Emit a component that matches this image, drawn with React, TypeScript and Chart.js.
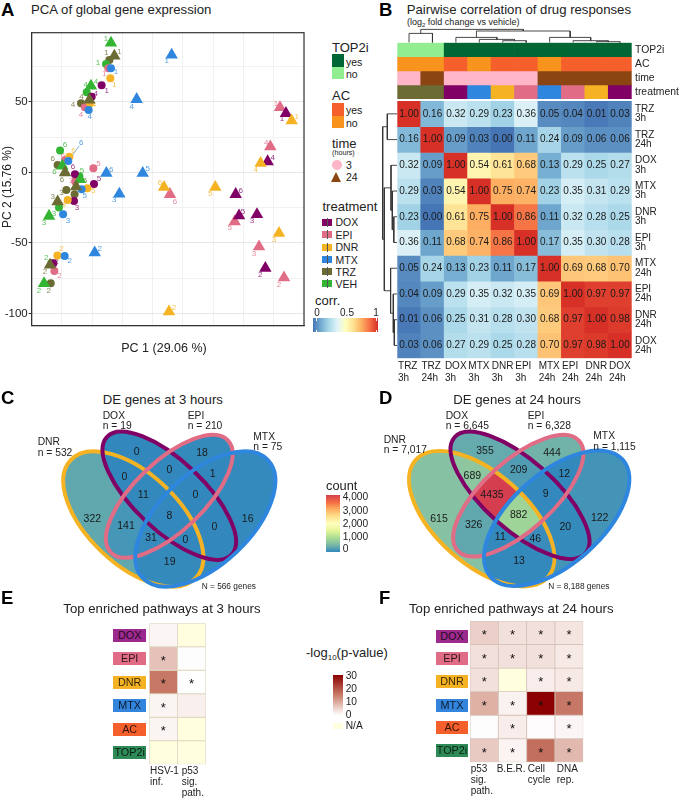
import React, { useEffect, useRef } from "react";
import { Chart, registerables } from "chart.js";

Chart.register(...registerables);
Chart.defaults.font.family = "'Liberation Sans', Arial, sans-serif";

const FONT = "'Liberation Sans', Arial, sans-serif";
const INK = "#222222";

// ---------- drug colours ----------
const drugColor: any = {
  DOX: "#800066", EPI: "#E06C85", DNR: "#F5B324", MTX: "#2E86DE", TRZ: "#6B6B33", VEH: "#33B533",
};

// ---------- Panel A: PCA (replicates 1..6) ----------
const replicates = ["1", "2", "3", "4", "5", "6"];
const vehTri = [[-10.5, 91.6], [-65.7, -78.7], [-61.6, -31], [-27, 61.2], [-36, -5], [-50.6, 4.5]];
const trzTri = [[-7.7, 82.5], [-60.8, -65.7], [-54.5, -20.8], [-28.3, 51.3], [-39.3, -10.2], [-48.4, -0.2]];
const mtxTri = [[39.6, 83.2], [-23.9, -56.9], [-3.6, -15.4], [10.7, 51.7], [15.7, -0.7], [-14.3, -0.7]];
const doxTri = [[133.9, 41.8], [116.9, -68], [110, -29.8], [118.8, 7.6], [95.2, -30.7], [92.4, -15.6]];
const epiTri = [[129, 46], [132.3, -74.7], [111.7, -52.7], [121, 18.2], [91.6, -35], [38.2, -15.6]];
const dnrTri = [[138.6, 36.6], [37.4, -98.8], [128.2, -43.2], [113, 6.4], [75.6, -10.6], [33.3, -10.6]];
const vehCir = [[-14.6, 76.8], [-59.7, -64.5], [-53.4, -25], [-30.5, 56.7], [-36.5, -3], [-52.5, 15.4]];
const trzCir = [[-11.8, 79.6], [-60.2, -78.7], [-47.3, -12.5], [-35.2, 48.9], [-40.5, -15.5], [-54.5, 5.2]];
const mtxCir = [[-10.5, 73.7], [-48.7, -59.3], [-50, -29.8], [-28.9, 44.2], [-34.7, -12], [-45.7, 8]];
const doxCir = [[-18.2, 61.7], [-58, -64.5], [-41, -20.3], [-26.4, 53.6], [-24.5, -8.3], [-40.2, -1.4]];
const epiCir = [[-12.7, 73.7], [-57.2, -70], [-40, -6.6], [-32, 46], [-25, 2.8], [-48.4, 8.7]];
const dnrCir = [[-11, 66.6], [-54.7, -59], [-46.2, -19.6], [-27.8, 49], [-30, -11.3], [-44.8, 11]];

const vehTriShift = [[-5, -4], [-5, 7], [-5, 7], [5, -4], [2, -9], [-8, 6]];
const trzTriShift = [[5, -4], [-5, 7], [-5, -5], [-8, -3], [9, -6], [-3, 7]];
const mtxTriShift = [[-5, 6], [5, -4], [-5, 6], [-5, 7], [5, -4], [5, -3]];
const doxTriShift = [[-4, 6], [-5, 7], [-5, 6], [5, -4], [4, -4], [5, -4]];
const epiTriShift = [[-4, -4], [-5, 7], [-5, 7], [-4, -4], [-5, 6], [5, 7]];
const dnrTriShift = [[5, -4], [5, -4], [-5, 7], [-5, 7], [-5, 7], [-4, -4]];
const vehCirShift = [[-8, -1], [-5, -6], [-5, 6], [-1, -7], [0, 2], [5, -6]];
const trzCirShift = [[-3, -7], [-2, 7], [-5, 3], [-8, 2], [0, 2], [-5, -6]];
const mtxCirShift = [[5, 4], [5, 5], [5, 6], [1, 7], [3, 7], [13, -18]];
const doxCirShift = [[5, 6], [3, -2], [3, 7], [4, -3], [5, -5], [-2, -7]];
const epiCirShift = [[-4, 6], [5, 5], [-4, -1], [-4, 7], [5, -5], [-2, -4]];
const dnrCirShift = [[4, 7], [4, -7], [-4, 5], [4, 2], [6, 3], [4, -6]];

const pcaSeries = [
  ["TRZ", "circle", trzCir, trzCirShift], ["VEH", "circle", vehCir, vehCirShift],
  ["EPI", "circle", epiCir, epiCirShift], ["DOX", "circle", doxCir, doxCirShift],
  ["DNR", "circle", dnrCir, dnrCirShift], ["MTX", "circle", mtxCir, mtxCirShift],
  ["VEH", "triangle", vehTri, vehTriShift], ["TRZ", "triangle", trzTri, trzTriShift],
  ["EPI", "triangle", epiTri, epiTriShift], ["DOX", "triangle", doxTri, doxTriShift],
  ["DNR", "triangle", dnrTri, dnrTriShift], ["MTX", "triangle", mtxTri, mtxTriShift],
];

// ---------- Panel B: correlation ----------
const corrLabels = [
  ["TRZ", "3h"], ["TRZ", "24h"], ["DOX", "3h"], ["MTX", "3h"], ["DNR", "3h"],
  ["EPI", "3h"], ["MTX", "24h"], ["EPI", "24h"], ["DNR", "24h"], ["DOX", "24h"],
];
const corrTRZ3 = [1.0, 0.16, 0.32, 0.29, 0.23, 0.36, 0.05, 0.04, 0.01, 0.03];
const corrTRZ24 = [0.16, 1.0, 0.09, 0.03, 0.0, 0.11, 0.24, 0.09, 0.06, 0.06];
const corrDOX3 = [0.32, 0.09, 1.0, 0.54, 0.61, 0.68, 0.13, 0.29, 0.25, 0.27];
const corrMTX3 = [0.29, 0.03, 0.54, 1.0, 0.75, 0.74, 0.23, 0.35, 0.31, 0.29];
const corrDNR3 = [0.23, 0.0, 0.61, 0.75, 1.0, 0.86, 0.11, 0.32, 0.28, 0.25];
const corrEPI3 = [0.36, 0.11, 0.68, 0.74, 0.86, 1.0, 0.17, 0.35, 0.3, 0.28];
const corrMTX24 = [0.05, 0.24, 0.13, 0.23, 0.11, 0.17, 1.0, 0.69, 0.68, 0.7];
const corrEPI24 = [0.04, 0.09, 0.29, 0.35, 0.32, 0.35, 0.69, 1.0, 0.97, 0.97];
const corrDNR24 = [0.01, 0.06, 0.25, 0.31, 0.28, 0.3, 0.68, 0.97, 1.0, 0.98];
const corrDOX24 = [0.03, 0.06, 0.27, 0.29, 0.25, 0.28, 0.7, 0.97, 0.98, 1.0];
const corrRows = [corrTRZ3, corrTRZ24, corrDOX3, corrMTX3, corrDNR3, corrEPI3, corrMTX24, corrEPI24, corrDNR24, corrDOX24];

const annotNames = ["TOP2i", "AC", "time", "treatment"];
const annotTop2i = ["no", "no", "yes", "yes", "yes", "yes", "yes", "yes", "yes", "yes"];
const annotAC = ["no", "no", "yes", "no", "yes", "yes", "no", "yes", "yes", "yes"];
const annotTime = ["3", "24", "3", "3", "3", "3", "24", "24", "24", "24"];
const annotDrug = ["TRZ", "TRZ", "DOX", "MTX", "DNR", "EPI", "MTX", "EPI", "DNR", "DOX"];
const top2iColor: any = { yes: "#006633", no: "#90EE90" };
const acColor: any = { yes: "#F55F2C", no: "#F8941E" };
const timeColor: any = { "3": "#FFB6C8", "24": "#8B4513" };

const colTree = [[0, 1, 9.3], [[2, [3, [4, 5, 2], 3.3], 5.3], [6, [7, [8, 9, 1], 2], 5.3], 11.7], 13.3];
const rowTree = [[0, 1, 10], [[2, [3, [4, 5, 3.5], 5], 6.3], [6, [7, [8, 9, 3], 4], 6.7], 13], 14.6];

// ---------- Panels C, D: Venn ----------
// membership in order DNR, DOX, EPI, MTX
const vennRegions = [
  [0, 1, 0, 0], [0, 0, 1, 0], [0, 0, 0, 1], [1, 0, 0, 0], [1, 1, 0, 0],
  [0, 1, 1, 0], [0, 0, 1, 1], [1, 1, 1, 0], [0, 1, 1, 1], [1, 1, 1, 1],
  [1, 0, 1, 0], [0, 1, 0, 1], [1, 0, 1, 1], [1, 1, 0, 1], [1, 0, 0, 1],
];
const counts3h = [0, 18, 16, 322, 0, 0, 1, 11, 0, 8, 141, 0, 31, 0, 19];
const counts24h = [355, 444, 122, 615, 689, 209, 12, 4435, 9, 882, 326, 20, 11, 46, 13];
const anchors3h = [[136.7, 451.7], [202, 453], [247.7, 519], [92.3, 519], [124.3, 476.7], [169.3, 470], [212.7, 474.3], [143.3, 495], [195.3, 495], [169.3, 516], [126, 526], [214.3, 527.3], [151, 538], [185.3, 540], [169.7, 561.7]];
const anchors24h = [[485, 451], [552, 453], [599.7, 518.3], [439, 518.7], [472.3, 476], [518.7, 470], [564.3, 474], [492, 494.7], [545.7, 494.3], [518.7, 515.3], [473.7, 525.3], [565.3, 526.7], [500.3, 537.3], [535.3, 538.7], [519, 560.7]];
// cx, cy, a, b, tilt(deg), in order DNR, DOX, EPI, MTX
const shapes3h = [[133.3, 519, 86, 45.5, 43.3], [169.3, 495.7, 85.7, 34.7, 43.4], [169.3, 496.3, 81, 34.7, -43.7], [205.3, 519, 86, 45.5, -43.3]];
const shapes24h = [[481.7, 518.7, 88.3, 45.5, 41.5], [520, 495.3, 87.5, 34.7, 41.6], [518.3, 495.7, 81.9, 34.7, -42.2], [556.7, 518.3, 88.3, 45.5, -41.5]];
const vennStroke = [drugColor.DNR, drugColor.DOX, drugColor.EPI, drugColor.MTX];

// ---------- Panels E, F: enrichment ----------
const enrichRowNames = ["DOX", "EPI", "DNR", "MTX", "AC", "TOP2i"];
const enrichChipColor = ["#9C2A8E", "#E06C85", "#F5B324", "#3384DC", "#F55F2C", "#2E8B57"];
const enrich3Cols = [["HSV-1", "inf."], ["p53", "sig.", "path."]];
const enrich3HSV = [1, 7, 15.4, 1.3, 1.3, null];
const enrich3P53 = [null, 0.2, 0, 1.8, null, null];
const enrich3Star = [[0, 0], [1, 0], [1, 1], [1, 0], [1, 0], [0, 0]];
const enrich24Cols = [["p53", "sig.", "path."], ["B.E.R."], ["Cell", "cycle"], ["DNA", "rep."]];
const enrich24P53 = [5.5, 3.5, 3.5, 9, 0.2, 6];
const enrich24BER = [3.5, 3.5, null, 1.5, 2, 1.2];
const enrich24Cell = [3.5, 3.5, 2, 30, 0.3, 16.5];
const enrich24DNA = [3, 2.5, 2.5, 15.5, 1, 8];
const enrich24Star = [[1, 1, 1, 1], [1, 1, 1, 1], [1, 0, 1, 1], [1, 1, 1, 1], [0, 1, 0, 1], [1, 1, 1, 1]];

// ---------- colour ramps ----------
const corrStops = ["#4575B4", "#74ADD1", "#ABD9E9", "#E0F3F8", "#FFFFBF", "#FEE090", "#FDAE61", "#F46D43", "#D73027"];
const countStops = ["#3288BD", "#7AB8A6", "#ABDD94", "#E6F598", "#FFFFBF", "#FEE08B", "#FDAE61", "#F46D43", "#D53E4F"];
const pvalStops = ["#FFFFFF", "#C97B68", "#8B0000"];
const NA_COLOR = "#FFFFE0";

function ramp(stops: string[], t: number) {
  const v = Math.max(0, Math.min(1, t)) * (stops.length - 1);
  const i = Math.min(stops.length - 2, Math.floor(v));
  const f = v - i;
  const p = (h: string) => [1, 3, 5].map((k) => parseInt(h.slice(k, k + 2), 16));
  const a = p(stops[i]);
  const b = p(stops[i + 1]);
  return `rgb(${a.map((c, k) => Math.round(c + (b[k] - c) * f)).join(",")})`;
}
const pvalColor = (v: number | null) => (v === null ? NA_COLOR : ramp(pvalStops, v / 30));

// ---------- shared chart helpers ----------
const baseOptions = (padding: any) => ({
  responsive: false,
  animation: false,
  events: [],
  layout: { autoPadding: false, padding },
  plugins: { legend: { display: false }, tooltip: { enabled: false } },
});

const noAxisPadding = (s: any) => {
  s.paddingLeft = 0; s.paddingRight = 0; s.paddingTop = 0; s.paddingBottom = 0;
};

const textPlugin = {
  id: "cellText",
  beforeDraw(chart: any, _a: any, o: any) {
    if (!o.xNudge || !chart.scales.x.options.display) return;
    const items = chart.scales.x.getLabelItems();
    if (items.$nudged) return;
    items.forEach((it: any, i: number) => { it.options.translation[0] += o.xNudge[i] || 0; });
    items.$nudged = true;
  },
  afterDatasetsDraw(chart: any, _a: any, o: any) {
    if (!o.text) return;
    const ctx = chart.ctx;
    ctx.save();
    ctx.font = o.font;
    ctx.fillStyle = o.color || INK;
    ctx.textAlign = "center";
    ctx.textBaseline = "middle";
    chart.data.datasets.forEach((_d: any, r: number) => {
      chart.getDatasetMeta(r).data.forEach((el: any, c: number) => {
        const s = o.text[r][c];
        if (s) ctx.fillText(s, el.x, (el.y + el.base) / 2 + (o.dy || 0));
      });
    });
    ctx.restore();
  },
};

function heatConfig(p: any) {
  const rows = p.colors.length;
  return {
    type: "bar",
    plugins: [textPlugin],
    data: {
      labels: p.cols,
      datasets: p.colors.map((row: string[], r: number) => ({
        data: row.map(() => [r, r + 1]),
        backgroundColor: row,
        borderColor: p.border || "transparent",
        borderWidth: p.border ? 0.8 : 0,
        borderSkipped: false,
        grouped: false,
        barPercentage: 1,
        categoryPercentage: 1,
      })),
    },
    options: {
      ...baseOptions(p.padding),
      plugins: {
        legend: { display: false },
        tooltip: { enabled: false },
        cellText: { text: p.text, font: p.textFont, dy: p.textDy, color: p.textColor, xNudge: p.xNudge },
      },
      scales: {
        x: {
          type: "category",
          offset: true,
          display: !!p.xHeight,
          grid: { display: false, drawTicks: false },
          border: { display: false },
          ticks: {
            autoSkip: false, maxRotation: 0, minRotation: 0, align: "start", padding: p.xPad || 2, color: INK,
            font: { size: 10, lineHeight: p.xLine || 1.2 },
            labelOffset: p.xOffset || 0,
          },
          afterFit(s: any) { if (p.xHeight) s.height = p.xHeight; noAxisPadding(s); },
        },
        y: {
          type: "linear",
          position: "right",
          min: 0,
          max: rows,
          reverse: true,
          display: !!p.yLabels,
          grid: { display: false, drawTicks: false },
          border: { display: false },
          afterBuildTicks(s: any) { if (p.yLabels) s.ticks = p.yLabels.map((_: any, i: number) => ({ value: i + 0.5 })); },
          ticks: {
            autoSkip: false, padding: 3.3, color: INK,
            font: { size: p.yFont || 10, lineHeight: p.yLine || 1 },
            callback: (_v: any, i: number) => (p.yLabels ? p.yLabels[i] : ""),
          },
          afterFit(s: any) { if (p.yLabels) s.width = p.yWidth; noAxisPadding(s); },
        },
      },
    },
  };
}

function treeSegments(node: any, out: number[][]): { pos: number; h: number } {
  if (typeof node === "number") return { pos: node + 0.5, h: 0 };
  const l = treeSegments(node[0], out);
  const r = treeSegments(node[1], out);
  const h = node[2];
  out.push([l.pos, l.h], [l.pos, h], [r.pos, h], [r.pos, r.h], [NaN, NaN]);
  return { pos: (l.pos + r.pos) / 2, h };
}

function dendroConfig(tree: any, horizontal: boolean, padding: any, hMax: number) {
  const pts: number[][] = [];
  treeSegments(tree, pts);
  const axisOff = { display: false };
  return {
    type: "scatter",
    data: {
      datasets: [{
        data: pts.map(([pos, h]) => (horizontal ? { x: h, y: pos } : { x: pos, y: h })),
        showLine: true, spanGaps: false, pointRadius: 0, borderColor: "#333333", borderWidth: 0.9, borderJoinStyle: "miter",
      }],
    },
    options: {
      ...baseOptions(padding),
      scales: horizontal
        ? { x: { ...axisOff, min: 0, max: hMax, reverse: true }, y: { ...axisOff, min: 0, max: 10, reverse: true } }
        : { x: { ...axisOff, min: 0, max: 10 }, y: { ...axisOff, min: 0, max: hMax } },
    },
  };
}

const vennPlugin = {
  id: "venn",
  beforeDatasetsDraw(chart: any, _a: any, o: any) {
    const ctx = chart.ctx;
    const sx = chart.scales.x;
    const sy = chart.scales.y;
    const path = (s: number[]) => {
      ctx.ellipse(sx.getPixelForValue(s[0]), sy.getPixelForValue(s[1]), s[2], s[3], (s[4] * Math.PI) / 180, 0, Math.PI * 2);
    };
    vennRegions.forEach((mask, i) => {
      ctx.save();
      mask.forEach((inside, k) => {
        ctx.beginPath();
        if (!inside) ctx.rect(0, 0, chart.width, chart.height);
        path(o.shapes[k]);
        ctx.clip(inside ? "nonzero" : "evenodd");
      });
      ctx.fillStyle = ramp(countStops, o.counts[i] / 4000);
      ctx.fillRect(0, 0, chart.width, chart.height);
      ctx.restore();
    });
    ctx.save();
    ctx.lineWidth = 4;
    o.shapes.forEach((s: number[], k: number) => {
      ctx.strokeStyle = vennStroke[k];
      ctx.beginPath();
      path(s);
      ctx.stroke();
    });
    ctx.restore();
  },
  afterDatasetsDraw(chart: any, _a: any, o: any) {
    const ctx = chart.ctx;
    ctx.save();
    ctx.font = `10.5px ${FONT}`;
    ctx.fillStyle = "#1a1a1a";
    ctx.textAlign = "center";
    ctx.textBaseline = "middle";
    chart.getDatasetMeta(0).data.forEach((el: any, i: number) => ctx.fillText(String(o.counts[i]), el.x, el.y));
    ctx.restore();
  },
};

function vennConfig(counts: number[], anchors: number[][], shapes: number[][], x0: number, y0: number, w: number, h: number) {
  return {
    type: "scatter",
    plugins: [vennPlugin],
    data: { datasets: [{ data: anchors.map(([x, y]) => ({ x, y })), pointRadius: 0 }] },
    options: {
      ...baseOptions(0),
      plugins: { legend: { display: false }, tooltip: { enabled: false }, venn: { counts, shapes } },
      scales: {
        x: { display: false, min: x0, max: x0 + w },
        y: { display: false, min: y0, max: y0 + h, reverse: true },
      },
    },
  };
}

const pcaPlugin = {
  id: "pcaDecor",
  beforeDatasetsDraw(chart: any) {
    const ctx = chart.ctx;
    ctx.save();
    ctx.font = `8px ${FONT}`;
    ctx.textAlign = "center";
    ctx.textBaseline = "middle";
    chart.data.datasets.forEach((d: any, k: number) => {
      chart.getDatasetMeta(k).data.forEach((el: any, i: number) => {
        const [dx, dy] = d.labelShift[i];
        ctx.globalAlpha = 0.8;
        ctx.fillStyle = d.backgroundColor;
        if (Math.hypot(dx, dy) > 12) {
          ctx.strokeStyle = d.backgroundColor;
          ctx.lineWidth = 0.8;
          ctx.beginPath();
          ctx.moveTo(el.x, el.y);
          ctx.lineTo(el.x + dx * 0.85, el.y + dy * 0.85);
          ctx.stroke();
        }
        ctx.fillText(replicates[i], el.x + dx, el.y + dy);
      });
    });
    ctx.restore();
  },
  afterDatasetsDraw(chart: any) {
    const { ctx, chartArea: a } = chart;
    ctx.save();
    ctx.strokeStyle = "#333333";
    ctx.lineWidth = 1.2;
    ctx.strokeRect(a.left, a.top, a.right - a.left, a.bottom - a.top);
    ctx.restore();
  },
};

function pcaConfig() {
  const datasets = pcaSeries.map(([drug, style, pts, shift]: any) => ({
    data: pts.map(([x, y]: number[]) => ({ x, y })),
    labelShift: shift,
    pointStyle: style,
    pointRadius: style === "circle" ? 4 : 7.2,
    backgroundColor: drugColor[drug],
    borderColor: drugColor[drug],
    borderWidth: 0,
  })).reverse();
  const isMajor = (v: number) => v % 50 === 0;
  const axis = (min: number, max: number, fit: any) => ({
    min, max,
    grid: {
      color: (c: any) => (isMajor(c.tick.value) ? "#E6E6E6" : "#F1F1F1"),
      tickColor: (c: any) => (isMajor(c.tick.value) ? "#333333" : "transparent"),
      tickLength: 3,
    },
    border: { color: "#333333", width: 1 },
    ticks: {
      stepSize: 25, includeBounds: false, autoSkip: false, maxRotation: 0, color: INK, padding: 1,
      font: { size: 11.5 },
      callback: (v: number) => (isMajor(v) ? String(v) : ""),
    },
    afterFit: (s: any) => { fit(s); noAxisPadding(s); },
  });
  return {
    type: "scatter",
    plugins: [pcaPlugin],
    data: { datasets },
    options: {
      ...baseOptions({ top: 32.7, right: 8, bottom: 0, left: 0 }),
      scales: {
        x: axis(-75.9, 148.8, (s: any) => { s.height = 29.3; }),
        y: axis(-108.7, 98.9, (s: any) => { s.width = 31.7; }),
      },
    },
  };
}

// ---------- React pieces ----------
function ChartBox({ x, y, w, h, make }: any) {
  const ref = useRef<HTMLCanvasElement | null>(null);
  useEffect(() => {
    const chart = new Chart(ref.current as any, make() as any);
    return () => chart.destroy();
  }, []);
  return <canvas ref={ref} width={w} height={h} style={{ position: "absolute", left: x, top: y, width: w, height: h, display: "block" }} />;
}

function T({ x, y, s = 10, b = false, c = INK, center = false, rot = 0, children }: any) {
  const tx = center ? "-50%" : "0";
  return (
    <div style={{
      position: "absolute", left: x, top: y, fontSize: s, fontWeight: b ? 700 : 400, color: c, fontFamily: FONT,
      whiteSpace: "nowrap", lineHeight: 1, transform: `translate(${tx},-50%)${rot ? ` rotate(${rot}deg)` : ""}`,
    }}>{children}</div>
  );
}

function Box({ x, y, w, h, bg, children }: any) {
  return <div style={{ position: "absolute", left: x, top: y, width: w, height: h, background: bg }}>{children}</div>;
}

function Chip({ x, y, w, name, bg }: any) {
  return (
    <div style={{
      position: "absolute", left: x, top: y - 6.5, width: w, height: 13, background: bg, color: "rgba(0,0,0,.8)",
      fontFamily: FONT, fontSize: 10.8, lineHeight: "13px", textAlign: "center",
    }}>{name}</div>
  );
}

const legendDrugs = ["DOX", "EPI", "DNR", "MTX", "TRZ", "VEH"];
const legendDrugY = [222.3, 234.8, 247, 259.5, 271.5, 283.5];
const chipY3 = [635, 658.3, 682.3, 705.7, 729, 752.3];
const chipY24 = [636, 658.3, 681.7, 705, 727.7, 750.7];
const countTicks = ["4,000", "3,000", "2,000", "1,000", "0"];
const countTickY = [497.3, 510.7, 524, 537.3, 549.3];
const pvalTicks = ["30", "20", "10", "0", "N/A"];
const pvalTickY = [676, 689.3, 702.3, 715, 726.3];

export default function App() {
  const corrColors = corrRows.map((r) => r.map((v) => ramp(corrStops, v)));
  const corrText = corrRows.map((r) => r.map((v) => v.toFixed(2)));
  const annotColors = [
    annotTop2i.map((k) => top2iColor[k]),
    annotAC.map((k) => acColor[k]),
    annotTime.map((k) => timeColor[k]),
    annotDrug.map((k) => drugColor[k]),
  ];
  const e3 = enrich3HSV.map((v, i) => [pvalColor(v), pvalColor(enrich3P53[i])]);
  const e24 = enrich24P53.map((v, i) => [pvalColor(v), pvalColor(enrich24BER[i]), pvalColor(enrich24Cell[i]), pvalColor(enrich24DNA[i])]);
  const starText = (m: number[][]) => m.map((r) => r.map((v) => (v ? "*" : "")));

  return (
    <div style={{ position: "absolute", left: 0, top: 0, width: 679, height: 800, overflow: "hidden", background: "#fff" }}>
      {/* A */}
      <T x={1} y={10} s={18.5} b c="#000">A</T>
      <T x={31} y={10} s={13.2}>PCA of global gene expression</T>
      <ChartBox x={0} y={0} w={312} h={355} make={pcaConfig} />
      <T x={7} y={187} s={12} center rot={-90}>PC 2 (15.76 %)</T>
      <T x={164} y={348} s={12.5} center>PC 1 (29.06 %)</T>

      {/* legends */}
      <T x={332} y={46.7} s={13}>TOP2i</T>
      <Box x={332} y={54.3} w={12} h={12.4} bg={top2iColor.yes} />
      <Box x={332} y={66.7} w={12} h={12.3} bg={top2iColor.no} />
      <T x={346} y={61.7} s={10.5}>yes</T>
      <T x={346} y={74} s={10.5}>no</T>
      <T x={332} y={95} s={13}>AC</T>
      <Box x={332} y={103.3} w={12} h={12.4} bg={acColor.yes} />
      <Box x={332} y={115.7} w={12} h={12.3} bg={acColor.no} />
      <T x={346} y={110.3} s={10.5}>yes</T>
      <T x={346} y={122.7} s={10.5}>no</T>
      <T x={332} y={142.7} s={13}>time</T>
      <T x={332} y={152.5} s={7.2}>(hours)</T>
      <div style={{ position: "absolute", left: 332, top: 160, width: 9.6, height: 9.6, borderRadius: "50%", background: timeColor["3"] }} />
      <T x={346} y={164.7} s={10.5}>3</T>
      <div style={{ position: "absolute", left: 331, top: 172, width: 0, height: 0, borderLeft: "5.5px solid transparent", borderRight: "5.5px solid transparent", borderBottom: `10px solid ${timeColor["24"]}` }} />
      <T x={346} y={177} s={10.5}>24</T>
      <T x={322.5} y={206} s={13}>treatment</T>
      {legendDrugs.map((d, i) => (
        <React.Fragment key={d}>
          <Box x={321.7} y={legendDrugY[i] - 3.5} w={10.6} h={7} bg={drugColor[d]} />
          <Box x={326.5} y={legendDrugY[i] - 4.5} w={1} h={9} bg="#555" />
          <T x={335.5} y={legendDrugY[i]} s={10.5}>{d}</T>
        </React.Fragment>
      ))}
      <T x={315} y={300} s={13}>corr.</T>
      <T x={317} y={313} s={10} center>0</T>
      <T x={347} y={313} s={10} center>0.5</T>
      <T x={376} y={313} s={10} center>1</T>
      <Box x={313.3} y={318.3} w={65} h={14} bg={`linear-gradient(to right, ${corrStops.join(",")})`} />
      <Box x={315.5} y={318.3} w={1} h={2.5} bg="#fff" />
      <Box x={315.5} y={329.8} w={1} h={2.5} bg="#fff" />
      <Box x={375.5} y={318.3} w={1} h={2.5} bg="#fff" />
      <Box x={375.5} y={329.8} w={1} h={2.5} bg="#fff" />

      {/* B */}
      <T x={379} y={10} s={18.5} b c="#000">B</T>
      <T x={406.7} y={10} s={13.2}>Pairwise correlation of drug responses</T>
      <T x={407} y={22} s={9}>(log<sub style={{ fontSize: 6, verticalAlign: "-2px", lineHeight: 0 }}>2</sub> fold change vs vehicle)</T>
      <ChartBox x={390} y={25} w={250} h={18} make={() => dendroConfig(colTree, false, { left: 7.3, right: 8.3, top: 0, bottom: 0.3 }, 17.7)} />
      <ChartBox x={390} y={40} w={289} h={62} make={() => heatConfig({
        cols: corrLabels.map((l) => l.join(" ")), colors: annotColors, yLabels: annotNames, yWidth: 47.3, yFont: 10.4,
        padding: { left: 7.3, top: 2.7, right: 0, bottom: 3 },
      })} />
      <ChartBox x={375} y={95} w={23} h={300} make={() => dendroConfig(rowTree, true, { left: 0, right: 0.7, top: 6, bottom: 36.7 }, 22.3)} />
      <ChartBox x={390} y={95} w={289} h={300} make={() => heatConfig({
        cols: corrLabels, colors: corrColors, text: corrText, textFont: `10px ${FONT}`, textColor: "#1a1a1a",
        yLabels: corrLabels, yWidth: 47.3, yFont: 10, yLine: 0.93, xHeight: 36.7, xPad: 2, xOffset: -11,
        padding: { left: 7.3, top: 6, right: 0, bottom: 0 },
      })} />

      {/* C */}
      <T x={1} y={398} s={18.5} b c="#000">C</T>
      <T x={102.7} y={400} s={13.2}>DE genes at 3 hours</T>
      <ChartBox x={0} y={405} w={340} h={190} make={() => vennConfig(counts3h, anchors3h, shapes3h, 0, 405, 340, 190)} />
      <T x={102.7} y={416} s={10.3}>DOX</T><T x={102.7} y={426} s={10.3}>n = 19</T>
      <T x={187.7} y={416} s={10.3}>EPI</T><T x={187.7} y={426} s={10.3}>n = 210</T>
      <T x={253.3} y={437.3} s={10.3}>MTX</T><T x={253.3} y={447.3} s={10.3}>n = 75</T>
      <T x={37.7} y={442.3} s={10.3}>DNR</T><T x={37.7} y={452.7} s={10.3}>n = 532</T>
      <T x={201.7} y={586.3} s={8.3}>N = 566 genes</T>

      {/* D */}
      <T x={379} y={398} s={18.5} b c="#000">D</T>
      <T x={453.3} y={400} s={13.2}>DE genes at 24 hours</T>
      <ChartBox x={340} y={405} w={339} h={190} make={() => vennConfig(counts24h, anchors24h, shapes24h, 340, 405, 339, 190)} />
      <T x={445.7} y={416} s={10.3}>DOX</T><T x={445.7} y={426} s={10.3}>n = 6,645</T>
      <T x={527.7} y={416} s={10.3}>EPI</T><T x={527.7} y={426} s={10.3}>n = 6,328</T>
      <T x={593.3} y={436.3} s={10.3}>MTX</T><T x={593.3} y={446.7} s={10.3}>n = 1,115</T>
      <T x={383.7} y={440} s={10.3}>DNR</T><T x={383.7} y={450.3} s={10.3}>n = 7,017</T>
      <T x={548.3} y={586.3} s={8.3}>N = 8,188 genes</T>

      {/* count legend */}
      <T x={326} y={486} s={12.8}>count</T>
      <Box x={326} y={495} w={14} h={56.7} bg={`linear-gradient(to top, ${countStops.join(",")})`} />
      {countTicks.map((t, i) => <T key={t} x={342.7} y={countTickY[i]} s={10.2}>{t}</T>)}

      {/* E */}
      <T x={1} y={598} s={18.5} b c="#000">E</T>
      <T x={63.3} y={609} s={13.2}>Top enriched pathways at 3 hours</T>
      {enrichRowNames.map((n, i) => <Chip key={n} x={113.3} y={chipY3[i]} w={32.7} name={n} bg={enrichChipColor[i]} />)}
      <ChartBox x={140} y={612} w={90} h={188} make={() => heatConfig({
        cols: enrich3Cols, colors: e3, text: starText(enrich3Star), textFont: `13px ${FONT}`, textDy: 2.8, textColor: "#111",
        border: "rgb(221,214,190)", xHeight: 35.7, xOffset: -13.4, xNudge: [0, 3.5], xLine: 1.07, xPad: 2,
        padding: { left: 9.3, top: 11.3, right: 24.3, bottom: 0 },
      })} />

      {/* p-value legend */}
      <T x={306} y={652} s={13}>-log<sub style={{ fontSize: 8, verticalAlign: "-3px", lineHeight: 0 }}>10</sub>(p-value)</T>
      <Box x={332.7} y={675} w={10} h={40} bg={`linear-gradient(to top, ${pvalStops.join(",")})`} />
      <Box x={332.7} y={723} w={10} h={6.3} bg={NA_COLOR} />
      {pvalTicks.map((t, i) => <T key={t} x={345.7} y={pvalTickY[i]} s={10.2}>{t}</T>)}

      {/* F */}
      <T x={379} y={598} s={18.5} b c="#000">F</T>
      <T x={409} y={609} s={13.2}>Top enriched pathways at 24 hours</T>
      {enrichRowNames.map((n, i) => <Chip key={n} x={435.7} y={chipY24[i]} w={32.6} name={n} bg={enrichChipColor[i]} />)}
      <ChartBox x={460} y={612} w={150} h={188} make={() => heatConfig({
        cols: enrich24Cols, colors: e24, text: starText(enrich24Star), textFont: `13px ${FONT}`, textDy: 2.8, textColor: "#111",
        border: "rgb(214,196,186)", xHeight: 37.7, xOffset: -13.5, xNudge: [0, -2.3, 0.4, 1.1], xLine: 1.07, xPad: 2,
        padding: { left: 10, top: 9, right: 26.7, bottom: 0 },
      })} />
    </div>
  );
}
